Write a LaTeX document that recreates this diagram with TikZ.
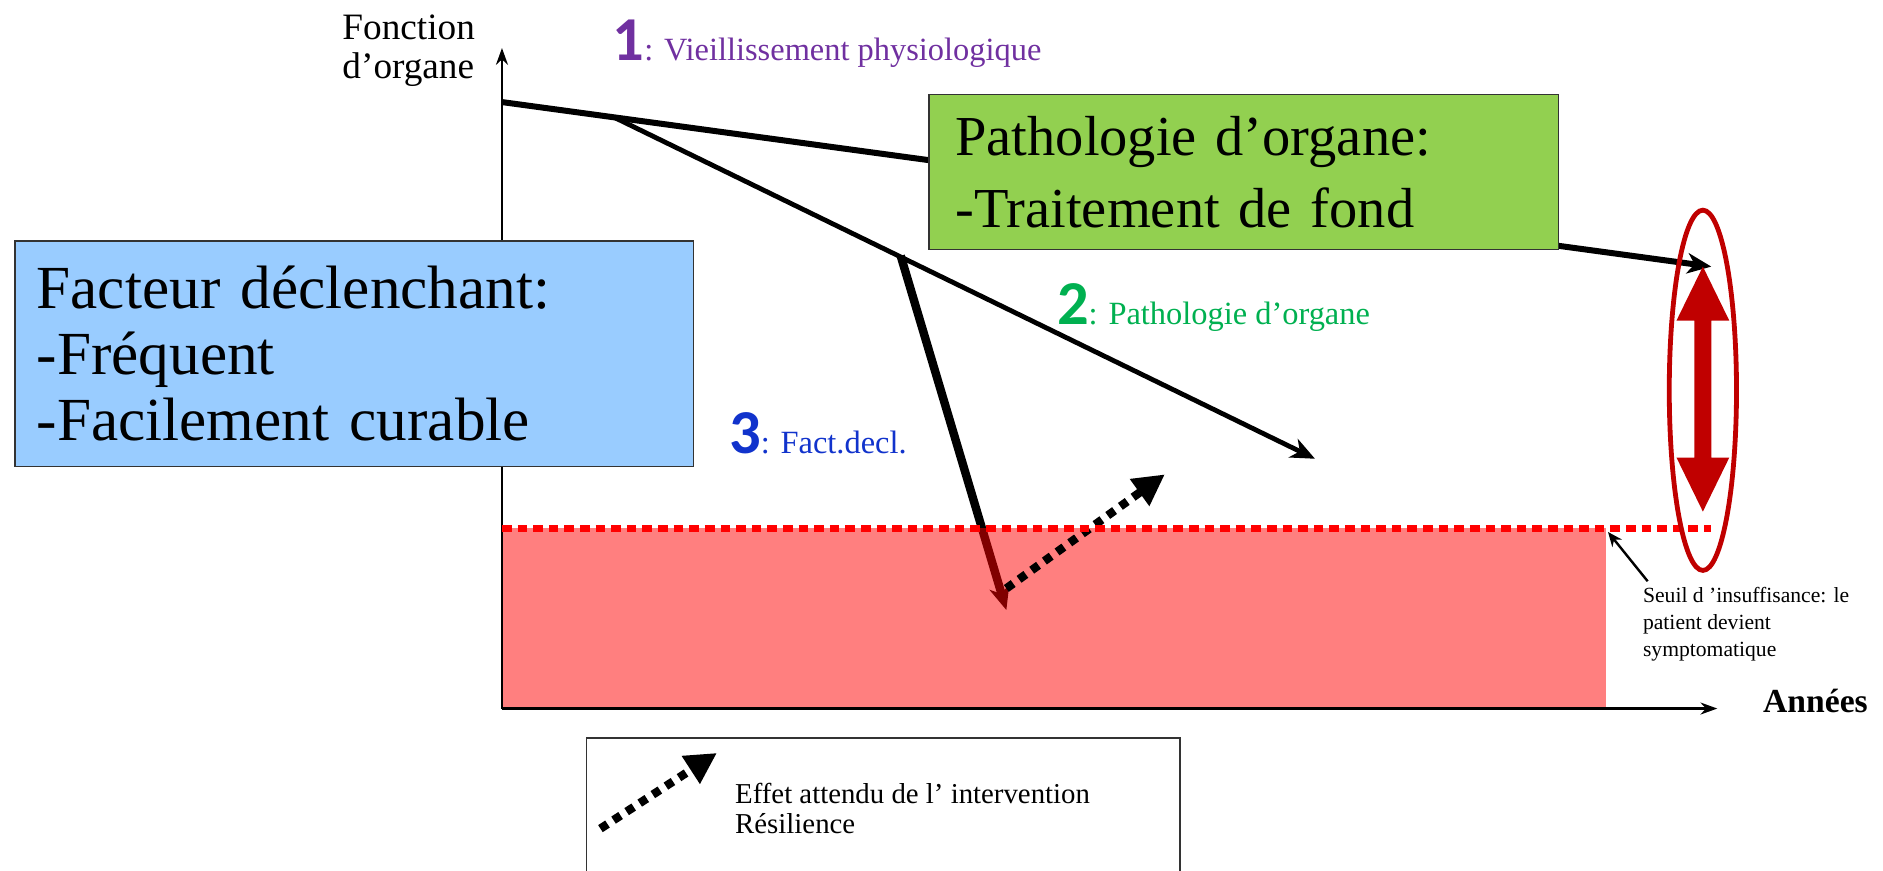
\documentclass[tikz,border=0pt]{standalone}
\usepackage{fontspec}
\setmainfont{Liberation Serif}
\newfontfamily\numfont{Carlito}
\usetikzlibrary{arrows.meta}
\definecolor{boxgreen}{HTML}{92D050}
\definecolor{boxblue}{HTML}{99CCFF}
\definecolor{txtpurple}{HTML}{7030A0}
\definecolor{txtgreen}{HTML}{00B050}
\definecolor{txtblue}{HTML}{1133CC}
\definecolor{darkred}{HTML}{C00000}
\tikzset{
  axisline/.style={line width=2pt,-{Stealth[length=14pt,width=10pt]}},
  curveline/.style={line width=#1,-{Stealth[length=20pt,width=17pt,inset=6pt]}},
  dotarrow/.style={line width=7pt,dash pattern=on 7pt off 6pt,-{Triangle[length=26pt,width=26pt]}},
  infobox/.style={draw=black!80,line width=1.2pt,anchor=north west,align=left},
  numlabel/.style={anchor=base west,inner sep=0pt,font=\fontsize{27}{27}\selectfont}
}
\begin{document}
\begin{tikzpicture}[x=1pt,y=-1pt]
\useasboundingbox (0,0) rectangle (1568,725);
% coordinates of the curves
\coordinate (o1) at (418,85);
\coordinate (e1) at (1425,222);
\coordinate (b1) at (512,98);
\coordinate (e2) at (1095,382);
\coordinate (b2) at (750,213);
\coordinate (e3) at (838,508);
\coordinate (d1) at (838,490);
\coordinate (d2) at (970,395);
\coordinate (ax0) at (418,590);
\coordinate (axy) at (418,40);
\coordinate (axx) at (1430,590);
% lines 2 and 3 (under the red zone)
\draw[curveline=4pt] (b1) -- (e2);
\draw[curveline=7pt] (b2) -- (e3);
% red zone
\fill[red,opacity=0.5] (418,440) rectangle (1337,590);
% axes
\draw[axisline] (ax0) -- (axy);
\draw[axisline] (ax0) -- (axx);
% line 1
\draw[curveline=5pt] (o1) -- (e1);
% dotted arrow
\draw[dotarrow] (d1) -- (d2);
% threshold
\coordinate (t0) at (418,440);
\coordinate (t1) at (1425,440);
\coordinate (tc) at (1339,443);
\draw[red,line width=6pt,dash pattern=on 8pt off 5pt] (t0) -- (t1);
% boxes
\node[infobox,fill=boxgreen,minimum width=524pt,minimum height=129pt,text width=480pt,inner xsep=22pt,inner ysep=0pt,font=\fontsize{47}{60}\selectfont] (green) at (773,78)
  {Pathologie d’organe:\\-Traitement de fond};
\node[infobox,fill=boxblue,minimum width=565pt,minimum height=188pt,text width=529pt,inner xsep=18pt,inner ysep=0pt,font=\fontsize{51}{55}\selectfont] (blue) at (12,200)
  {Facteur déclenchant:\\-Fréquent\\-Facilement curable};
% axis labels
\node[anchor=north west,align=left,inner sep=0pt,font=\fontsize{31}{33}\selectfont] (ylab) at (285,12) {Fonction\\d’organe};
\node[anchor=base west,inner sep=0pt,font=\fontsize{28}{28}\selectfont\bfseries] (xlab) at (1468,593) {Années};
% numbered labels
\node[numlabel,text=txtpurple] (lab1) at (510,50)
  {{\numfont\bfseries\fontsize{52}{52}\selectfont 1}: Vieillissement physiologique};
\node[numlabel,text=txtgreen] (lab2) at (880,270)
  {{\numfont\bfseries\fontsize{52}{52}\selectfont 2}: Pathologie d’organe};
\node[numlabel,text=txtblue] (lab3) at (607,378)
  {{\numfont\bfseries\fontsize{52}{52}\selectfont 3}: Fact.decl.};
% reserve ellipse and double arrow
\draw[darkred,line width=4pt] (1418,325) ellipse [x radius=28pt,y radius=150pt];
\fill[darkred] (1418,222) -- (1440,267) -- (1425,267) -- (1425,381) -- (1440,381) -- (1418,426)
  -- (1396,381) -- (1411,381) -- (1411,267) -- (1396,267) -- cycle;
% threshold label
\node[anchor=north west,align=left,inner sep=0pt,font=\fontsize{18}{22.5}\selectfont] (seuil) at (1368,489)
  {Seuil d ’insuffisance: le\\patient devient\\symptomatique};
\draw[line width=2pt,-{Stealth[length=12pt,width=10pt]}] (seuil.north west) ++(4,-5) coordinate (sa) -- (tc);
% legend
\node[draw=black!80,line width=1.2pt,anchor=north west,minimum width=494pt,minimum height=120pt,inner sep=0pt] (legend) at (488,614) {};
\coordinate (l1) at (500,690);
\coordinate (l2) at (597,627);
\draw[dotarrow] (l1) -- (l2);
\node[anchor=north west,align=left,inner sep=0pt,font=\fontsize{24}{25}\selectfont] (legtext) at (612,652)
  {Effet attendu de l’ intervention\\Résilience};
\end{tikzpicture}
\end{document}
